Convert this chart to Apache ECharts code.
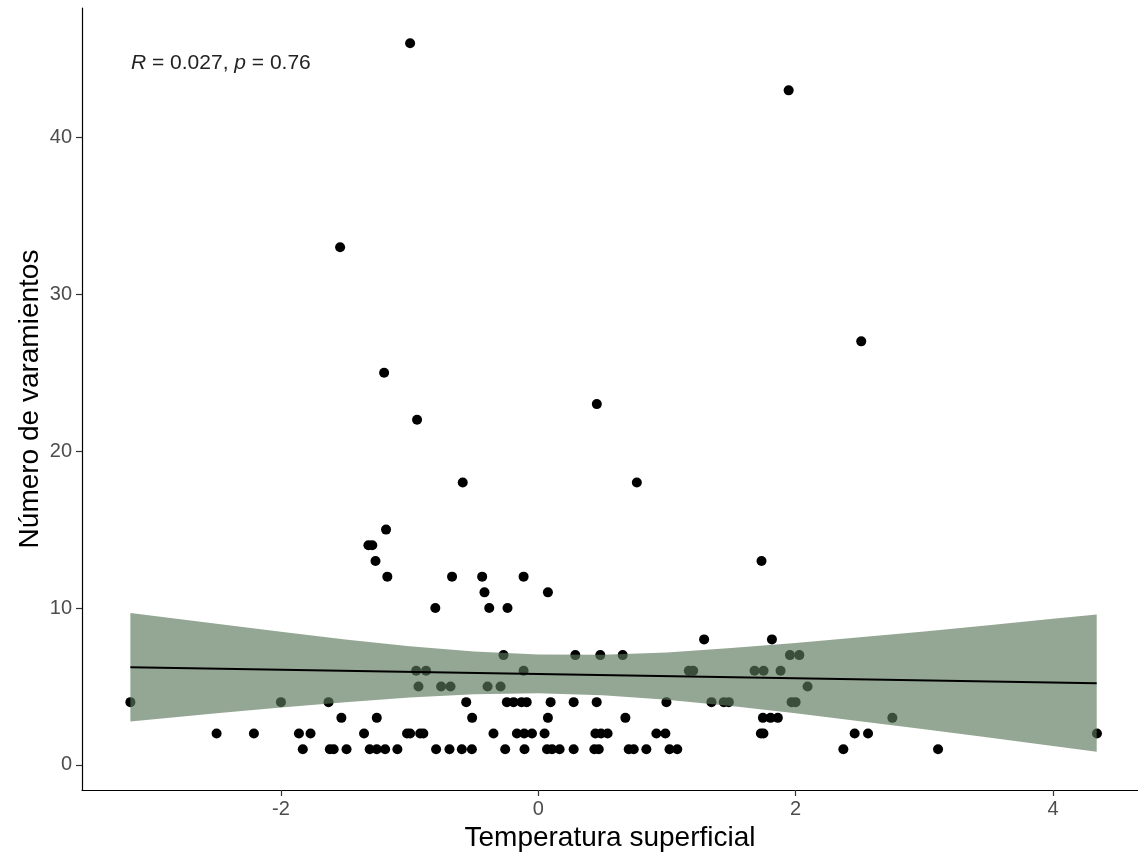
<!DOCTYPE html>
<html>
<head>
    <meta charset="utf-8">
    <title>Varamientos</title>
    <script src="https://cdn.jsdelivr.net/npm/echarts@6/dist/echarts.min.js"></script>
    <style>
        html, body { margin: 0; padding: 0; background: #fff; }
        #main { width: 1138px; height: 859px; }
    </style>
</head>
<body>
<div id="main"></div>
<script type="text/javascript">
    // puntos: temperatura (x) y numero de varamientos (y)
    var tempX = [
        -0.996, 1.946, -1.54, 2.51, -1.198, 0.455, -0.942, -0.587, 0.766, -1.183,
        -1.32, -1.29, -1.265, 1.735,
        -1.173, -0.67, -0.436, -0.114,
        -0.418, 0.075,
        -0.80, -0.381, -0.239,
        1.289, 1.816,
        -0.27, 0.288, 0.482, 0.656, 1.956, 2.029,
        -0.949, -0.872, -0.114, 1.17, 1.204, 1.681, 1.751, 1.883,
        -0.931, -0.755, -0.682, -0.394, -0.293, 2.093,
        -3.17, -2.0, -1.63, -0.56, -0.244, -0.192, -0.13, -0.09, 0.096, 0.275, 0.454, 0.996, 1.346, 1.442, 1.481, 1.969, 2.0,
        -1.53, -1.255, -0.514, 0.075, 0.677, 1.746, 1.805, 1.862, 2.752,
        -2.50, -2.21, -1.86, -1.77, -1.354, -1.02, -0.996, -0.918, -0.893, -0.348, -0.166, -0.109, -0.049, 0.049,
        0.444, 0.488, 0.539, 0.918, 0.988, 1.73, 1.75, 2.459, 2.563, 4.342,
        -1.83, -1.62, -1.59, -1.49, -1.31, -1.255, -1.19, -1.095, -0.794, -0.69, -0.594, -0.516, -0.257, -0.107,
        0.068, 0.107, 0.166, 0.275, 0.436, 0.47, 0.703, 0.742, 0.84, 1.02, 1.08, 2.371, 3.107
    ];
    var varamientos = [
        46, 43, 33, 27, 25, 23, 22, 18, 18, 15,
        14, 14, 13, 13,
        12, 12, 12, 12,
        11, 11,
        10, 10, 10,
        8, 8,
        7, 7, 7, 7, 7, 7,
        6, 6, 6, 6, 6, 6, 6, 6,
        5, 5, 5, 5, 5, 5,
        4, 4, 4, 4, 4, 4, 4, 4, 4, 4, 4, 4, 4, 4, 4, 4, 4,
        3, 3, 3, 3, 3, 3, 3, 3, 3,
        2, 2, 2, 2, 2, 2, 2, 2, 2, 2, 2, 2, 2, 2,
        2, 2, 2, 2, 2, 2, 2, 2, 2, 2,
        1, 1, 1, 1, 1, 1, 1, 1, 1, 1, 1, 1, 1, 1,
        1, 1, 1, 1, 1, 1, 1, 1, 1, 1, 1, 1, 1
    ];

    // recta de ajuste (extremos) y banda de confianza
    var fitX = [-3.17, 4.34];
    var fitY = [6.23, 5.21];
    var bandX = [-3.17, -2.5, -2, -1.5, -1, -0.5, 0, 0.5, 1, 1.5, 2, 2.5, 3, 3.5, 4, 4.34];
    var bandHigh = [9.69, 8.99, 8.48, 8.00, 7.57, 7.23, 7.03, 7.02, 7.17, 7.45, 7.77, 8.13, 8.51, 8.91, 9.31, 9.58];
    var bandLow = [2.77, 3.29, 3.66, 4.00, 4.29, 4.51, 4.57, 4.44, 4.15, 3.75, 3.29, 2.79, 2.27, 1.75, 1.21, 0.84];

    var xTicks = [-2, 0, 2, 4];
    var yTicks = [0, 10, 20, 30, 40];

    var fontName = "'Liberation Sans', Arial, sans-serif";

    var points = tempX.map(function (x, i) { return [x, varamientos[i]]; });
    var fitLine = fitX.map(function (x, i) { return [x, fitY[i]]; });

    var myChart = echarts.init(document.getElementById('main'));

    var option = {
        backgroundColor: '#FFFFFF',
        animation: false,
        grid: { left: 82, top: 8, right: 0, height: 782 },
        xAxis: {
            type: 'value',
            min: -3.546, max: 4.661,
            name: 'Temperatura superficial',
            nameLocation: 'middle',
            nameGap: 32,
            nameTextStyle: { color: '#000', fontSize: 28, fontFamily: fontName, verticalAlign: 'top' },
            splitLine: { show: false },
            axisLine: { show: true, onZero: false, lineStyle: { color: '#000', width: 1.2 } },
            axisTick: { show: true, customValues: xTicks, length: 6, lineStyle: { color: '#333', width: 1.2 } },
            axisLabel: { customValues: xTicks, color: '#4D4D4D', fontSize: 20, margin: 9, fontFamily: fontName }
        },
        yAxis: {
            type: 'value',
            min: -1.6, max: 48.25,
            name: 'Número de varamientos',
            nameLocation: 'middle',
            nameGap: 52,
            nameMoveOverlap: false,
            nameTextStyle: { color: '#000', fontSize: 28, fontFamily: fontName, verticalAlign: 'middle' },
            splitLine: { show: false },
            axisLine: { show: true, onZero: false, lineStyle: { color: '#000', width: 1.2 } },
            axisTick: { show: true, customValues: yTicks, length: 6, lineStyle: { color: '#333', width: 1.2 } },
            axisLabel: { customValues: yTicks, color: '#4D4D4D', fontSize: 20, margin: 10, fontFamily: fontName }
        },
        graphic: [{
            type: 'text',
            left: 131,
            top: 53,
            style: {
                text: '{i|R} = 0.027, {i|p} = 0.76',
                fill: '#222',
                fontSize: 21,
                fontFamily: fontName,
                rich: { i: { fontStyle: 'italic', fontSize: 21, fontFamily: fontName, fill: '#222' } }
            }
        }],
        series: [{
            name: 'puntos',
            type: 'scatter',
            z: 2,
            symbolSize: 10,
            itemStyle: { color: '#000', opacity: 1 },
            data: points
        }, {
            name: 'banda',
            type: 'custom',
            z: 3,
            clip: true,
            data: [[bandX[0], bandLow[0]]],
            renderItem: function (params, api) {
                var pts = [];
                for (var i = 0; i < bandX.length; i++) {
                    pts.push(api.coord([bandX[i], bandHigh[i]]));
                }
                for (var j = bandX.length - 1; j >= 0; j--) {
                    pts.push(api.coord([bandX[j], bandLow[j]]));
                }
                return {
                    type: 'polygon',
                    shape: { points: pts },
                    style: { fill: 'rgba(90,119,90,0.65)', stroke: null }
                };
            }
        }, {
            name: 'ajuste',
            type: 'line',
            z: 4,
            symbol: 'none',
            lineStyle: { color: '#000', width: 2 },
            data: fitLine
        }]
    };

    myChart.setOption(option);
</script>
</body>
</html>
